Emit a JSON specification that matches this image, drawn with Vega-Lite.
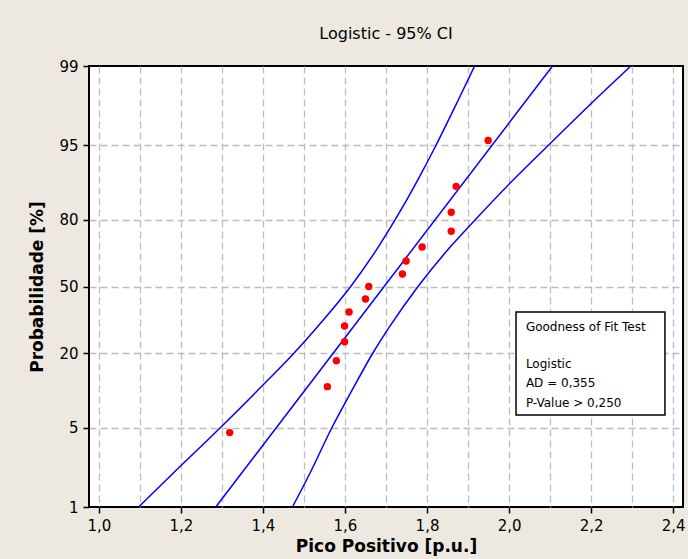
{
  "$schema": "https://vega.github.io/schema/vega-lite/v6.json",
  "width": 594,
  "height": 441,
  "autosize": {"type": "none"},
  "padding": {"left": 89, "top": 66, "right": 5, "bottom": 52},
  "background": "#EDE9E0",
  "title": {"text": "Logistic - 95% CI", "anchor": "middle", "offset": 17, "fontSize": 16, "font": "DejaVu Sans", "fontWeight": "normal", "color": "#000000"},
  "config": {
    "view": {"fill": "#FFFFFF", "stroke": "#000000", "strokeWidth": 2},
    "axis": {
      "labelFont": "DejaVu Sans", "labelFontSize": 15, "labelColor": "#000000",
      "titleFont": "DejaVu Sans", "titleFontSize": 17, "titleFontWeight": "bold", "titleColor": "#000000",
      "domain": false, "tickColor": "#000000", "tickWidth": 1.5, "tickSize": 6,
      "gridColor": "#BDBDBD", "gridWidth": 1.3, "gridDash": [7, 4]
    }
  },
  "datasets": {
    "pts": [
      {"x": 1.319, "pct": 4.5, "z": -3.045},
      {"x": 1.557, "pct": 11.0, "z": -2.087},
      {"x": 1.579, "pct": 17.5, "z": -1.548},
      {"x": 1.599, "pct": 24.0, "z": -1.151},
      {"x": 1.599, "pct": 30.5, "z": -0.823},
      {"x": 1.610, "pct": 37.0, "z": -0.532},
      {"x": 1.650, "pct": 43.5, "z": -0.261},
      {"x": 1.658, "pct": 50.0, "z": 0},
      {"x": 1.740, "pct": 56.5, "z": 0.261},
      {"x": 1.749, "pct": 63.0, "z": 0.532},
      {"x": 1.788, "pct": 69.5, "z": 0.823},
      {"x": 1.859, "pct": 76.0, "z": 1.151},
      {"x": 1.859, "pct": 82.5, "z": 1.548},
      {"x": 1.871, "pct": 89.0, "z": 2.087},
      {"x": 1.949, "pct": 95.5, "z": 3.045}
    ],
    "fit": [
      {"curve": "fit", "pct": 1, "z": -4.595, "x": 1.285},
      {"curve": "fit", "pct": 50, "z": 0, "x": 1.6955},
      {"curve": "fit", "pct": 99, "z": 4.595, "x": 2.106},
      {"curve": "lower", "pct": 1, "z": -4.595, "x": 1.097},
      {"curve": "lower", "pct": 2, "z": -3.892, "x": 1.181},
      {"curve": "lower", "pct": 5, "z": -2.944, "x": 1.296},
      {"curve": "lower", "pct": 10, "z": -2.197, "x": 1.3835},
      {"curve": "lower", "pct": 20, "z": -1.386, "x": 1.476},
      {"curve": "lower", "pct": 30, "z": -0.847, "x": 1.532},
      {"curve": "lower", "pct": 50, "z": 0, "x": 1.614},
      {"curve": "lower", "pct": 70, "z": 0.847, "x": 1.683},
      {"curve": "lower", "pct": 80, "z": 1.386, "x": 1.722},
      {"curve": "lower", "pct": 90, "z": 2.197, "x": 1.776},
      {"curve": "lower", "pct": 95, "z": 2.944, "x": 1.822},
      {"curve": "lower", "pct": 98, "z": 3.892, "x": 1.8765},
      {"curve": "lower", "pct": 99, "z": 4.595, "x": 1.916},
      {"curve": "upper", "pct": 1, "z": -4.595, "x": 1.472},
      {"curve": "upper", "pct": 2, "z": -3.892, "x": 1.5146},
      {"curve": "upper", "pct": 5, "z": -2.944, "x": 1.568},
      {"curve": "upper", "pct": 10, "z": -2.197, "x": 1.615},
      {"curve": "upper", "pct": 20, "z": -1.386, "x": 1.668},
      {"curve": "upper", "pct": 30, "z": -0.847, "x": 1.708},
      {"curve": "upper", "pct": 50, "z": 0, "x": 1.778},
      {"curve": "upper", "pct": 70, "z": 0.847, "x": 1.859},
      {"curve": "upper", "pct": 80, "z": 1.386, "x": 1.917},
      {"curve": "upper", "pct": 90, "z": 2.197, "x": 2.0075},
      {"curve": "upper", "pct": 95, "z": 2.944, "x": 2.096},
      {"curve": "upper", "pct": 98, "z": 3.892, "x": 2.2097},
      {"curve": "upper", "pct": 99, "z": 4.595, "x": 2.297}
    ],
    "box": [
      {"title": "Goodness of Fit Test", "dist": "Logistic", "ad": "AD = 0,355", "pval": "P-Value > 0,250"}
    ]
  },
  "layer": [
    {
      "data": {"name": "fit"},
      "mark": {"type": "line", "color": "#0000FF", "strokeWidth": 1.5, "interpolate": "monotone"},
      "encoding": {
        "x": {
          "field": "x", "type": "quantitative",
          "scale": {"domain": [0.976, 2.424], "nice": false, "zero": false},
          "axis": {
            "title": "Pico Positivo [p.u.]",
            "values": [1.0, 1.1, 1.2, 1.3, 1.4, 1.5, 1.6, 1.7, 1.8, 1.9, 2.0, 2.1, 2.2, 2.3, 2.4],
            "labelExpr": "round(datum.value*10) % 2 == 0 ? replace(format(datum.value, '.1f'), '.', ',') : ''",
            "tickOpacity": {"condition": {"test": "round(datum.value*10) % 2 == 0", "value": 1}, "value": 0},
            "grid": true, "labelPadding": 5, "titlePadding": 5, "labelFlush": false, "labelOverlap": false
          }
        },
        "y": {
          "field": "z", "type": "quantitative",
          "scale": {"domain": [-4.595, 4.595], "nice": false, "zero": false},
          "axis": {
            "title": "Probabilidade [%]",
            "values": [-4.595, -2.944, -1.386, 0, 1.386, 2.944, 4.595],
            "labelExpr": "format(100/(1+exp(-datum.value)), '.0f')",
            "gridOpacity": {"condition": {"test": "abs(datum.value) > 4.5", "value": 0}, "value": 1},
            "grid": true, "labelPadding": 5, "titlePadding": 12, "labelFlush": false, "labelOverlap": false
          }
        },
        "detail": {"field": "curve"},
        "order": {"field": "z", "type": "quantitative"}
      }
    },
    {
      "data": {"name": "pts"},
      "mark": {"type": "circle", "color": "#FF0000", "opacity": 1, "size": 55},
      "encoding": {
        "x": {"field": "x", "type": "quantitative"},
        "y": {"field": "z", "type": "quantitative"}
      }
    },
    {
      "data": {"name": "box"},
      "mark": {"type": "rect", "fill": "#FFFFFF", "stroke": "#000000", "strokeWidth": 1.5},
      "encoding": {
        "x": {"datum": 2.017, "type": "quantitative"},
        "x2": {"datum": 2.380},
        "y": {"datum": -0.531, "type": "quantitative"},
        "y2": {"datum": -2.678}
      }
    },
    {
      "data": {"name": "box"},
      "mark": {"type": "text", "align": "left", "baseline": "top", "font": "DejaVu Sans", "fontSize": 12, "color": "#000000"},
      "encoding": {
        "x": {"datum": 2.041, "type": "quantitative"},
        "y": {"datum": -0.74, "type": "quantitative"},
        "text": {"field": "title"}
      }
    },
    {
      "data": {"name": "box"},
      "mark": {"type": "text", "align": "left", "baseline": "top", "font": "DejaVu Sans", "fontSize": 12, "lineHeight": 19.5, "color": "#000000"},
      "encoding": {
        "x": {"datum": 2.041, "type": "quantitative"},
        "y": {"datum": -1.51, "type": "quantitative"},
        "text": {"value": ["Logistic", "AD = 0,355", "P-Value > 0,250"]}
      }
    }
  ]
}
